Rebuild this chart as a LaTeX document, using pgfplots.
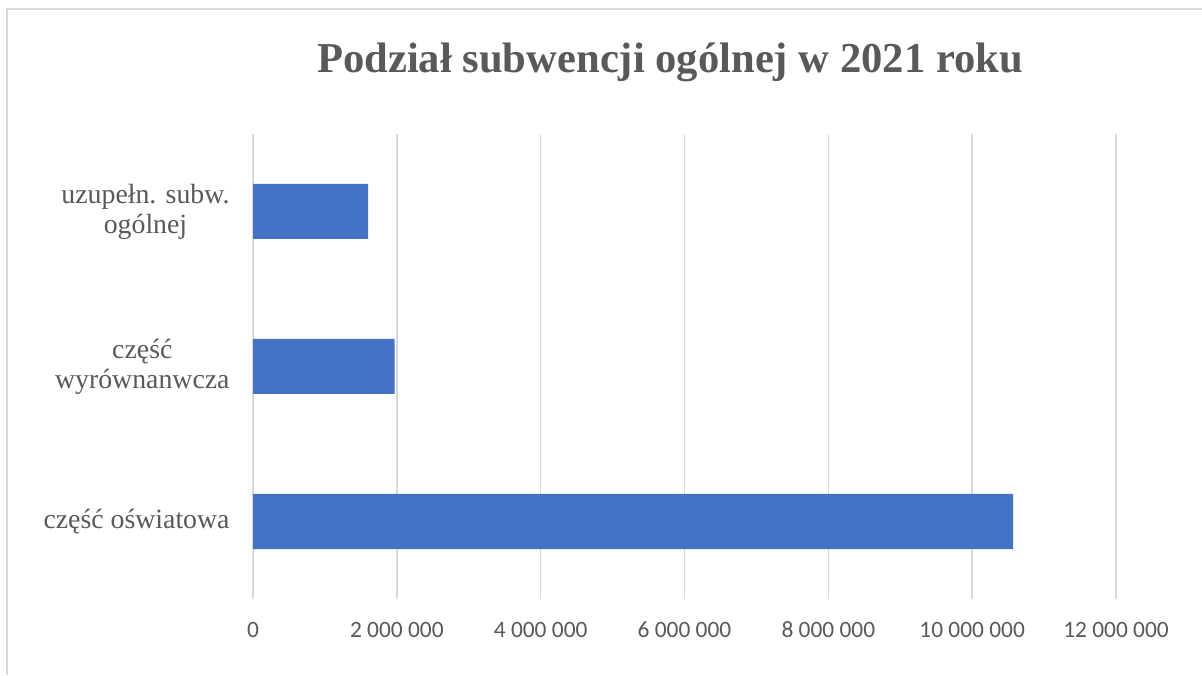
\documentclass[border=0pt]{standalone}
\usepackage{pgfplots}
\pgfplotsset{compat=1.18}
\usepackage{fontspec}
\setmainfont{Liberation Serif}
\newfontfamily\calibri{Carlito}
\definecolor{barblue}{HTML}{4472C4}
\definecolor{gridgray}{HTML}{D9D9D9}
\definecolor{txtgray}{HTML}{595959}
\begin{document}
\begin{tikzpicture}[x=1pt,y=1pt]
\useasboundingbox (0,0) rectangle (1202,675);
\fill[white] (0,0) rectangle (1202,675);
\draw[gridgray, line width=1.3pt] (7,0) -- (7,666) -- (1202,666);
\node[text=txtgray, font=\fontsize{42.6}{48}\selectfont\bfseries, anchor=base] at (670,602) {Podział subwencji ogólnej w 2021 roku};
\begin{axis}[
  at={(253pt,76pt)}, anchor=south west,
  scale only axis, width=863pt, height=465pt,
  xbar, bar width=55pt, bar shift=0pt,
  xmin=0, xmax=12000000,
  ymin=-0.5, ymax=2.5,
  ytick={0,1,2},
  yticklabels={{część oświatowa},{część\\wyrównanwcza},{uzupełn. subw.\\ogólnej}},
  yticklabel style={align=center, text=txtgray, font=\fontsize{27.8}{30}\selectfont, inner sep=0pt, xshift=-19pt},
  xtick={0,2000000,4000000,6000000,8000000,10000000,12000000},
  xticklabels={0,2 000 000,4 000 000,6 000 000,8 000 000,10 000 000,12 000 000},
  xticklabel style={text=txtgray, font=\calibri\fontsize{23.4}{26}\selectfont, inner sep=0pt, anchor=base, yshift=-38pt},
  xmajorgrids, grid style={gridgray, line width=1.5pt},
  axis line style={draw=none},
  major tick style={draw=none},
  scaled x ticks=false,
]
\addplot[fill=barblue, draw=none] coordinates {(10570000,0) (1970000,1) (1600000,2)};
\end{axis}
\end{tikzpicture}
\end{document}
